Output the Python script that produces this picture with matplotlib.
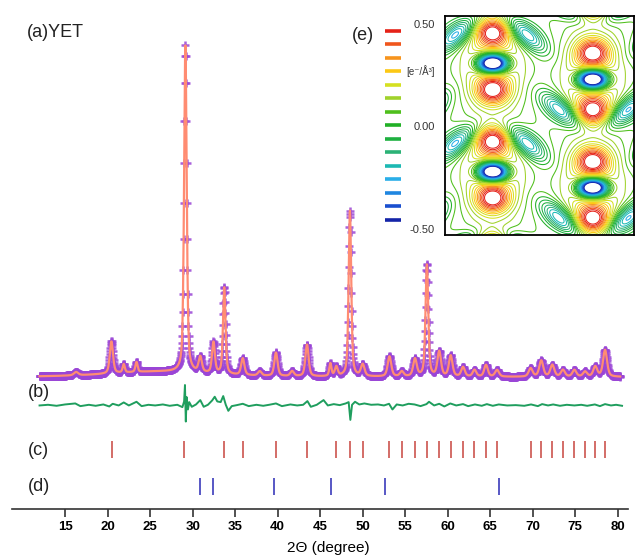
import numpy as np
import matplotlib
matplotlib.use('Agg')
import matplotlib.pyplot as plt
from matplotlib.colors import ListedColormap

plt.rcParams['font.family'] = ['Liberation Sans', 'DejaVu Sans']

# Bragg peaks: position (deg), height, fwhm (deg)
peak_pos = [26.0, 16.3, 20.45, 21.9, 23.4, 29.15, 30.9, 32.45, 33.72, 35.9,
            37.9, 39.8, 41.7, 43.45, 46.2, 46.9, 48.5, 50.0, 53.15, 54.6,
            56.15, 57.55, 59.0, 60.35, 61.8, 63.15, 64.5, 65.8, 69.75, 71.0,
            72.3, 73.55, 74.9, 76.15, 77.35, 78.5]
peak_height = [1.6, 1.0, 9.6, 2.5, 3.0, 97.5, 4.6, 9.3, 26.0, 5.0,
               1.3, 7.0, 1.5, 9.5, 3.8, 2.8, 49.5, 3.5, 6.0, 1.5,
               5.2, 33.5, 7.4, 6.2, 2.8, 2.0, 3.5, 2.0, 2.5, 4.8,
               3.5, 2.0, 2.0, 1.5, 3.0, 8.0]
peak_fwhm = [14.0, 0.6, 0.45, 0.3, 0.3, 0.36, 0.45, 0.4, 0.35, 0.45,
             0.5, 0.45, 0.5, 0.45, 0.3, 0.4, 0.36, 0.5, 0.5, 0.5,
             0.5, 0.38, 0.5, 0.5, 0.5, 0.5, 0.5, 0.55, 0.55, 0.55,
             0.55, 0.55, 0.55, 0.55, 0.55, 0.55]

# difference curve (obs - calc)
diff_tth = [12.0, 13.0, 14.0, 15.0, 16.2, 16.8, 17.8, 18.6, 19.5, 20.2, 20.6,
            21.3, 21.9, 22.5, 23.4, 24.0, 24.8, 25.6, 26.5, 27.3, 28.2, 28.8,
            29.0, 29.1, 29.2, 29.3, 29.45, 29.6, 29.9, 30.4, 30.9, 31.3, 31.8,
            32.3, 32.6, 32.9, 33.3, 33.6, 33.9, 34.2, 34.6, 35.2, 35.9, 36.6,
            37.5, 38.3, 39.0, 39.8, 40.5, 41.5, 42.3, 43.0, 43.5, 43.9, 44.6,
            45.4, 45.9, 46.6, 47.3, 48.0, 48.35, 48.55, 48.75, 49.1, 49.6, 50.2,
            51.0, 51.8, 52.5, 53.1, 53.5, 54.0, 54.7, 55.4, 56.1, 56.8, 57.5,
            57.8, 58.4, 59.0, 59.6, 60.3, 61.0, 61.8, 62.4, 63.2, 64.0, 64.6,
            65.3, 66.0, 67.0, 68.0, 69.0, 69.8, 70.6, 71.1, 71.8, 72.4, 73.2,
            74.0, 74.9, 75.7, 76.4, 77.3, 77.9, 78.5, 79.2, 79.8, 80.5]
diff_val = [0.0, 0.2, -0.1, 0.3, 0.6, -0.2, 0.2, -0.1, 0.3, -0.3, 0.5,
            0.0, 0.9, 0.0, 1.1, -0.2, 0.2, 0.0, 0.3, -0.1, 0.2, -0.5,
            1.2, 6.1, -4.8, 2.5, -1.2, 1.0, -0.4, 0.3, 1.6, -0.4, 0.2,
            1.5, 2.6, 1.2, 1.0, 2.8, 0.2, -1.6, -0.2, 0.1, 0.5, -0.2,
            0.2, -0.1, 0.2, 0.6, -0.2, 0.3, 0.0, 0.2, 1.3, -0.4, 0.2,
            1.6, 0.0, 0.4, 0.1, 0.6, 1.0, -4.3, 0.2, 1.1, 0.3, 0.6,
            0.2, 0.3, 0.0, 0.5, -1.2, 0.3, 0.0, 0.5, 0.3, -0.2, 0.4,
            1.1, 0.0, 0.5, -0.3, 0.6, 0.0, 0.4, -0.2, 0.3, -0.1, 0.4,
            -0.1, 0.3, 0.0, 0.1, -0.1, 0.3, -0.2, 0.4, 0.0, 0.3, -0.1,
            0.2, 0.0, 0.2, -0.1, 0.3, -0.2, 0.4, 0.0, 0.2, -0.1]

# reflection positions of the two phases
refl_c = [20.5, 29.04, 33.74, 35.9, 39.8, 43.43, 46.85, 48.53, 50.02, 53.12,
          54.68, 56.18, 57.55, 59.0, 60.38, 61.74, 63.12, 64.5, 65.79, 69.79,
          71.0, 72.26, 73.5, 74.88, 76.1, 77.35, 78.53]
refl_d = [30.88, 32.45, 39.59, 46.3, 52.65, 66.07]

# density map motifs (inset pixel coords, x right, y down)
site_x = [47.7, 147.7]
site_y = [47.3, 63.3]
lobe_dy = [[-31, 27], [-27, 31]]
hole_dx = [[-36, 33], [-32, 34]]
hole_dy = [-29, 31]
hole_tilt = [[-40, 40], [40, -40]]

# contour colour scale, 0.50 (top) to -0.50 (bottom)
level_colors = ['#e52218', '#f0561c', '#f7941d', '#fcc814', '#d5e021',
                '#a0d22b', '#4fbf1c', '#21b026', '#1eb040', '#2bb276',
                '#1cb9b3', '#2aaee8', '#1f86e0', '#1a4fcf', '#1424a8']
scale_labels = ['0.50', '0.00', '-0.50']


def profile(x):
    y = np.zeros_like(x)
    for p, h, w in zip(peak_pos, peak_height, peak_fwhm):
        t = (x - p) / w
        y += h * (0.5 * np.exp(-4 * np.log(2) * t ** 2) + 0.5 / (1 + 4 * t ** 2))
    return y


def density(X, Y):
    f = np.zeros_like(X)
    for ix in (-1, 0, 1):
        for iy in (-1, 0, 1, 2):
            for k in range(2):
                cx = site_x[k] + ix * 200
                cy = site_y[k] + iy * 108.4
                f += 0.27 * np.exp(-((X - cx) ** 2 / (2 * 24 ** 2) + (Y - cy) ** 2 / (2 * 33 ** 2)))
                f -= 1.1 * np.exp(-((X - cx) ** 2 / (2 * 10 ** 2) + (Y - cy) ** 2 / (2 * 6.5 ** 2)))
                for dy in lobe_dy[k]:
                    f += 0.40 * np.exp(-((X - cx) ** 2 / (2 * 11 ** 2) + (Y - cy - dy) ** 2 / (2 * 9 ** 2)))
                for dx, t in zip(hole_dx[k], hole_tilt[k]):
                    hx, hy = cx + dx, cy + hole_dy[k]
                    a = np.deg2rad(t)
                    u = (X - hx) * np.cos(a) + (Y - hy) * np.sin(a)
                    v = -(X - hx) * np.sin(a) + (Y - hy) * np.cos(a)
                    f -= 0.33 * np.exp(-(u ** 2 / (2 * 16 ** 2) + v ** 2 / (2 * 7 ** 2)))
    return f


fig = plt.figure(figsize=(6.37, 5.59), dpi=100)

# ---- powder pattern ----
ax = fig.add_axes([12 / 637, 50 / 559, 616 / 637, 509 / 559])
ax.set_xlim(8.76, 81.2)
ax.set_ylim(-39.4, 112.5)

tth = np.arange(12.0, 80.3, 0.035)
yobs = profile(tth)
ax.plot(tth, yobs, ls='none', marker='+', ms=5.5, mew=1.8, color='#9a45d6', alpha=0.85)
ax.plot(tth, yobs, color='#ff8c72', lw=1.6)

ax.plot(diff_tth, np.array(diff_val) - 8.5, color='#1f9e5e', lw=1.4)
ax.vlines(refl_c, -24.2, -19.1, color='#c8453f', lw=1.1)
ax.vlines(refl_d, -35.2, -30.1, color='#2a2ab5', lw=1.1)

ax.text(10.52, 102.7, '(a)YET', fontsize=13, va='center', color='#222222')
ax.text(10.64, -4.5, '(b)', fontsize=13, va='center', color='#222222')
ax.text(10.64, -21.8, '(c)', fontsize=13, va='center', color='#222222')
ax.text(10.64, -32.8, '(d)', fontsize=13, va='center', color='#222222')

for s in ('top', 'right', 'left'):
    ax.spines[s].set_visible(False)
ax.spines['bottom'].set_linewidth(1.2)
ax.spines['bottom'].set_color('#333333')
ax.set_yticks([])
ax.set_xticks(np.arange(15, 81, 5))
ax.tick_params(axis='x', direction='out', length=6, width=1.2, color='#333333',
               pad=3, labelsize=9.5)
for lab in ax.get_xticklabels():
    lab.set_fontweight('bold')
ax.set_xlabel('2Θ (degree)', fontsize=11)
ax.xaxis.set_label_coords(0.513, -0.063)

# ---- difference density inset ----
iax = fig.add_axes([445 / 637, (559 - 235) / 559, 189 / 637, 219 / 559])
gx = np.linspace(0, 189, 400)
gy = np.linspace(0, 219, 460)
GX, GY = np.meshgrid(gx, gy)
rho = density(GX, GY)
cmap = ListedColormap(level_colors[::-1])
iax.contour(GX, GY, rho, levels=np.linspace(-0.5, 0.5, 29), cmap=cmap,
            vmin=-0.5, vmax=0.5, linewidths=0.75)
iax.set_xlim(0, 189)
iax.set_ylim(219, 0)
iax.set_xticks([])
iax.set_yticks([])
for s in iax.spines.values():
    s.set_linewidth(1.3)
    s.set_color('black')

# colour key beside the map (figure pixel coords)
kax = fig.add_axes([0, 0, 1, 1])
kax.set_xlim(0, 637)
kax.set_ylim(559, 0)
kax.axis('off')
key_y = 30.7 + 13.5 * np.arange(len(level_colors))
kax.hlines(key_y, 385, 401, colors=level_colors, lw=2.6)
kax.text(352, 35, '(e)', fontsize=13, va='center', color='#222222')
kax.text(435, 25, scale_labels[0], fontsize=8, ha='right', va='center', color='#333333')
kax.text(435, 71, '[e⁻/Å³]', fontsize=7, ha='right', va='center', color='#333333')
kax.text(435, 126.7, scale_labels[1], fontsize=8, ha='right', va='center', color='#333333')
kax.text(435, 230, scale_labels[2], fontsize=8, ha='right', va='center', color='#333333')

fig.savefig('out.png', dpi=100)
